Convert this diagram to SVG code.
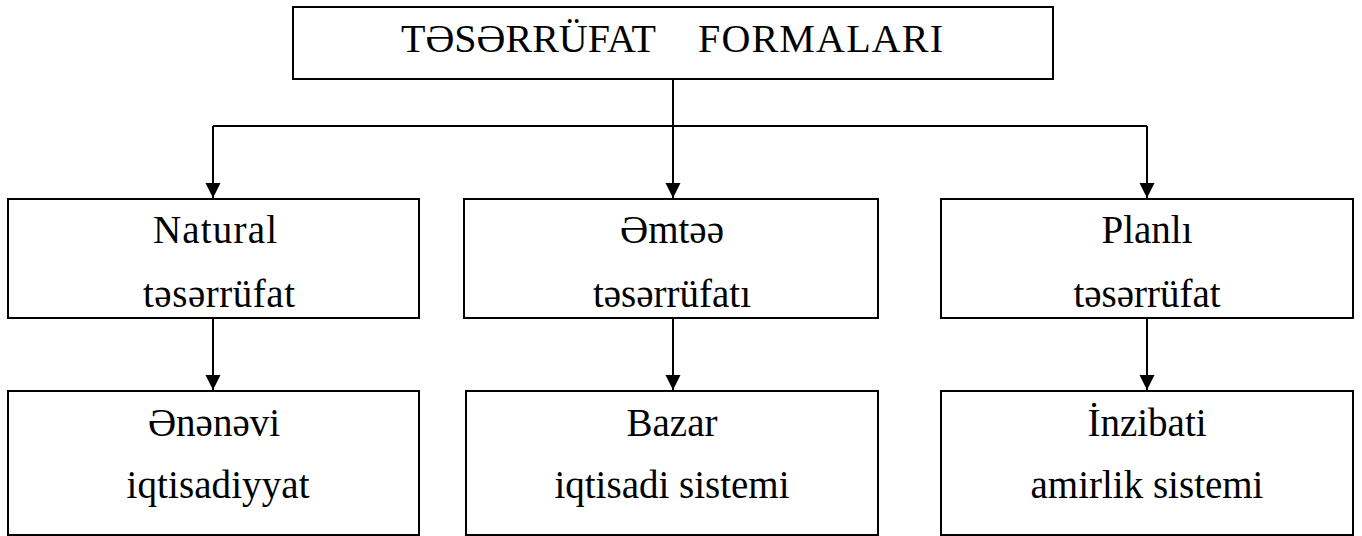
<svg xmlns="http://www.w3.org/2000/svg" width="1362" height="536" viewBox="0 0 1362 536">
<style>
.box{fill:#fff;stroke:#000;stroke-width:2}
.t{font-family:"Liberation Serif","DejaVu Serif","Times New Roman",serif;font-size:39px;fill:#000;text-anchor:middle}
.title{font-family:"Liberation Serif","DejaVu Serif","Times New Roman",serif;font-size:40px;fill:#000}
.c{fill:none;stroke:#000;stroke-width:2}
</style>
<defs>
<marker id="ah" markerUnits="userSpaceOnUse" markerWidth="16" markerHeight="16" refX="15" refY="7.5" orient="auto">
<path d="M0,0 L15,7.5 L0,15 z" fill="#000"/>
</marker>
</defs>
<rect width="1362" height="536" fill="#fff"/>
<g id="connectors">
<path class="c" d="M673,79 V126 M213,126 H1147"/>
<path class="c" d="M213,126 V198" marker-end="url(#ah)"/>
<path class="c" d="M673,126 V198" marker-end="url(#ah)"/>
<path class="c" d="M1147,126 V198" marker-end="url(#ah)"/>
<path class="c" d="M213,318 V390" marker-end="url(#ah)"/>
<path class="c" d="M673,318 V390" marker-end="url(#ah)"/>
<path class="c" d="M1147,318 V390" marker-end="url(#ah)"/>
</g>
<g id="top">
<rect class="box" x="293" y="7" width="760" height="72"/>
<text class="title" x="401" y="52">TƏSƏRRÜFAT <tspan x="698" textLength="245">FORMALARI</tspan></text>
</g>
<g id="natural">
<rect class="box" x="8" y="199" width="411" height="119"/>
<text class="t" x="215" y="243" textLength="124">Natural</text>
<text class="t" x="219" y="307" textLength="152">təsərrüfat</text>
</g>
<g id="emtee">
<rect class="box" x="464" y="199" width="414" height="119"/>
<text class="t" x="672" y="243">Əmtəə</text>
<text class="t" x="672" y="307">təsərrüfatı</text>
</g>
<g id="planli">
<rect class="box" x="941" y="199" width="412" height="119"/>
<text class="t" x="1147" y="243">Planlı</text>
<text class="t" x="1147" y="307">təsərrüfat</text>
</g>
<g id="enenevi">
<rect class="box" x="8" y="391" width="411" height="144"/>
<text class="t" x="214" y="436">Ənənəvi</text>
<text class="t" x="218" y="498" textLength="183">iqtisadiyyat</text>
</g>
<g id="bazar">
<rect class="box" x="466" y="391" width="412" height="144"/>
<text class="t" x="672" y="436">Bazar</text>
<text class="t" x="672" y="498">iqtisadi sistemi</text>
</g>
<g id="inzibati">
<rect class="box" x="941" y="391" width="412" height="144"/>
<text class="t" x="1147" y="436">İnzibati</text>
<text class="t" x="1147" y="498">amirlik sistemi</text>
</g>
</svg>
